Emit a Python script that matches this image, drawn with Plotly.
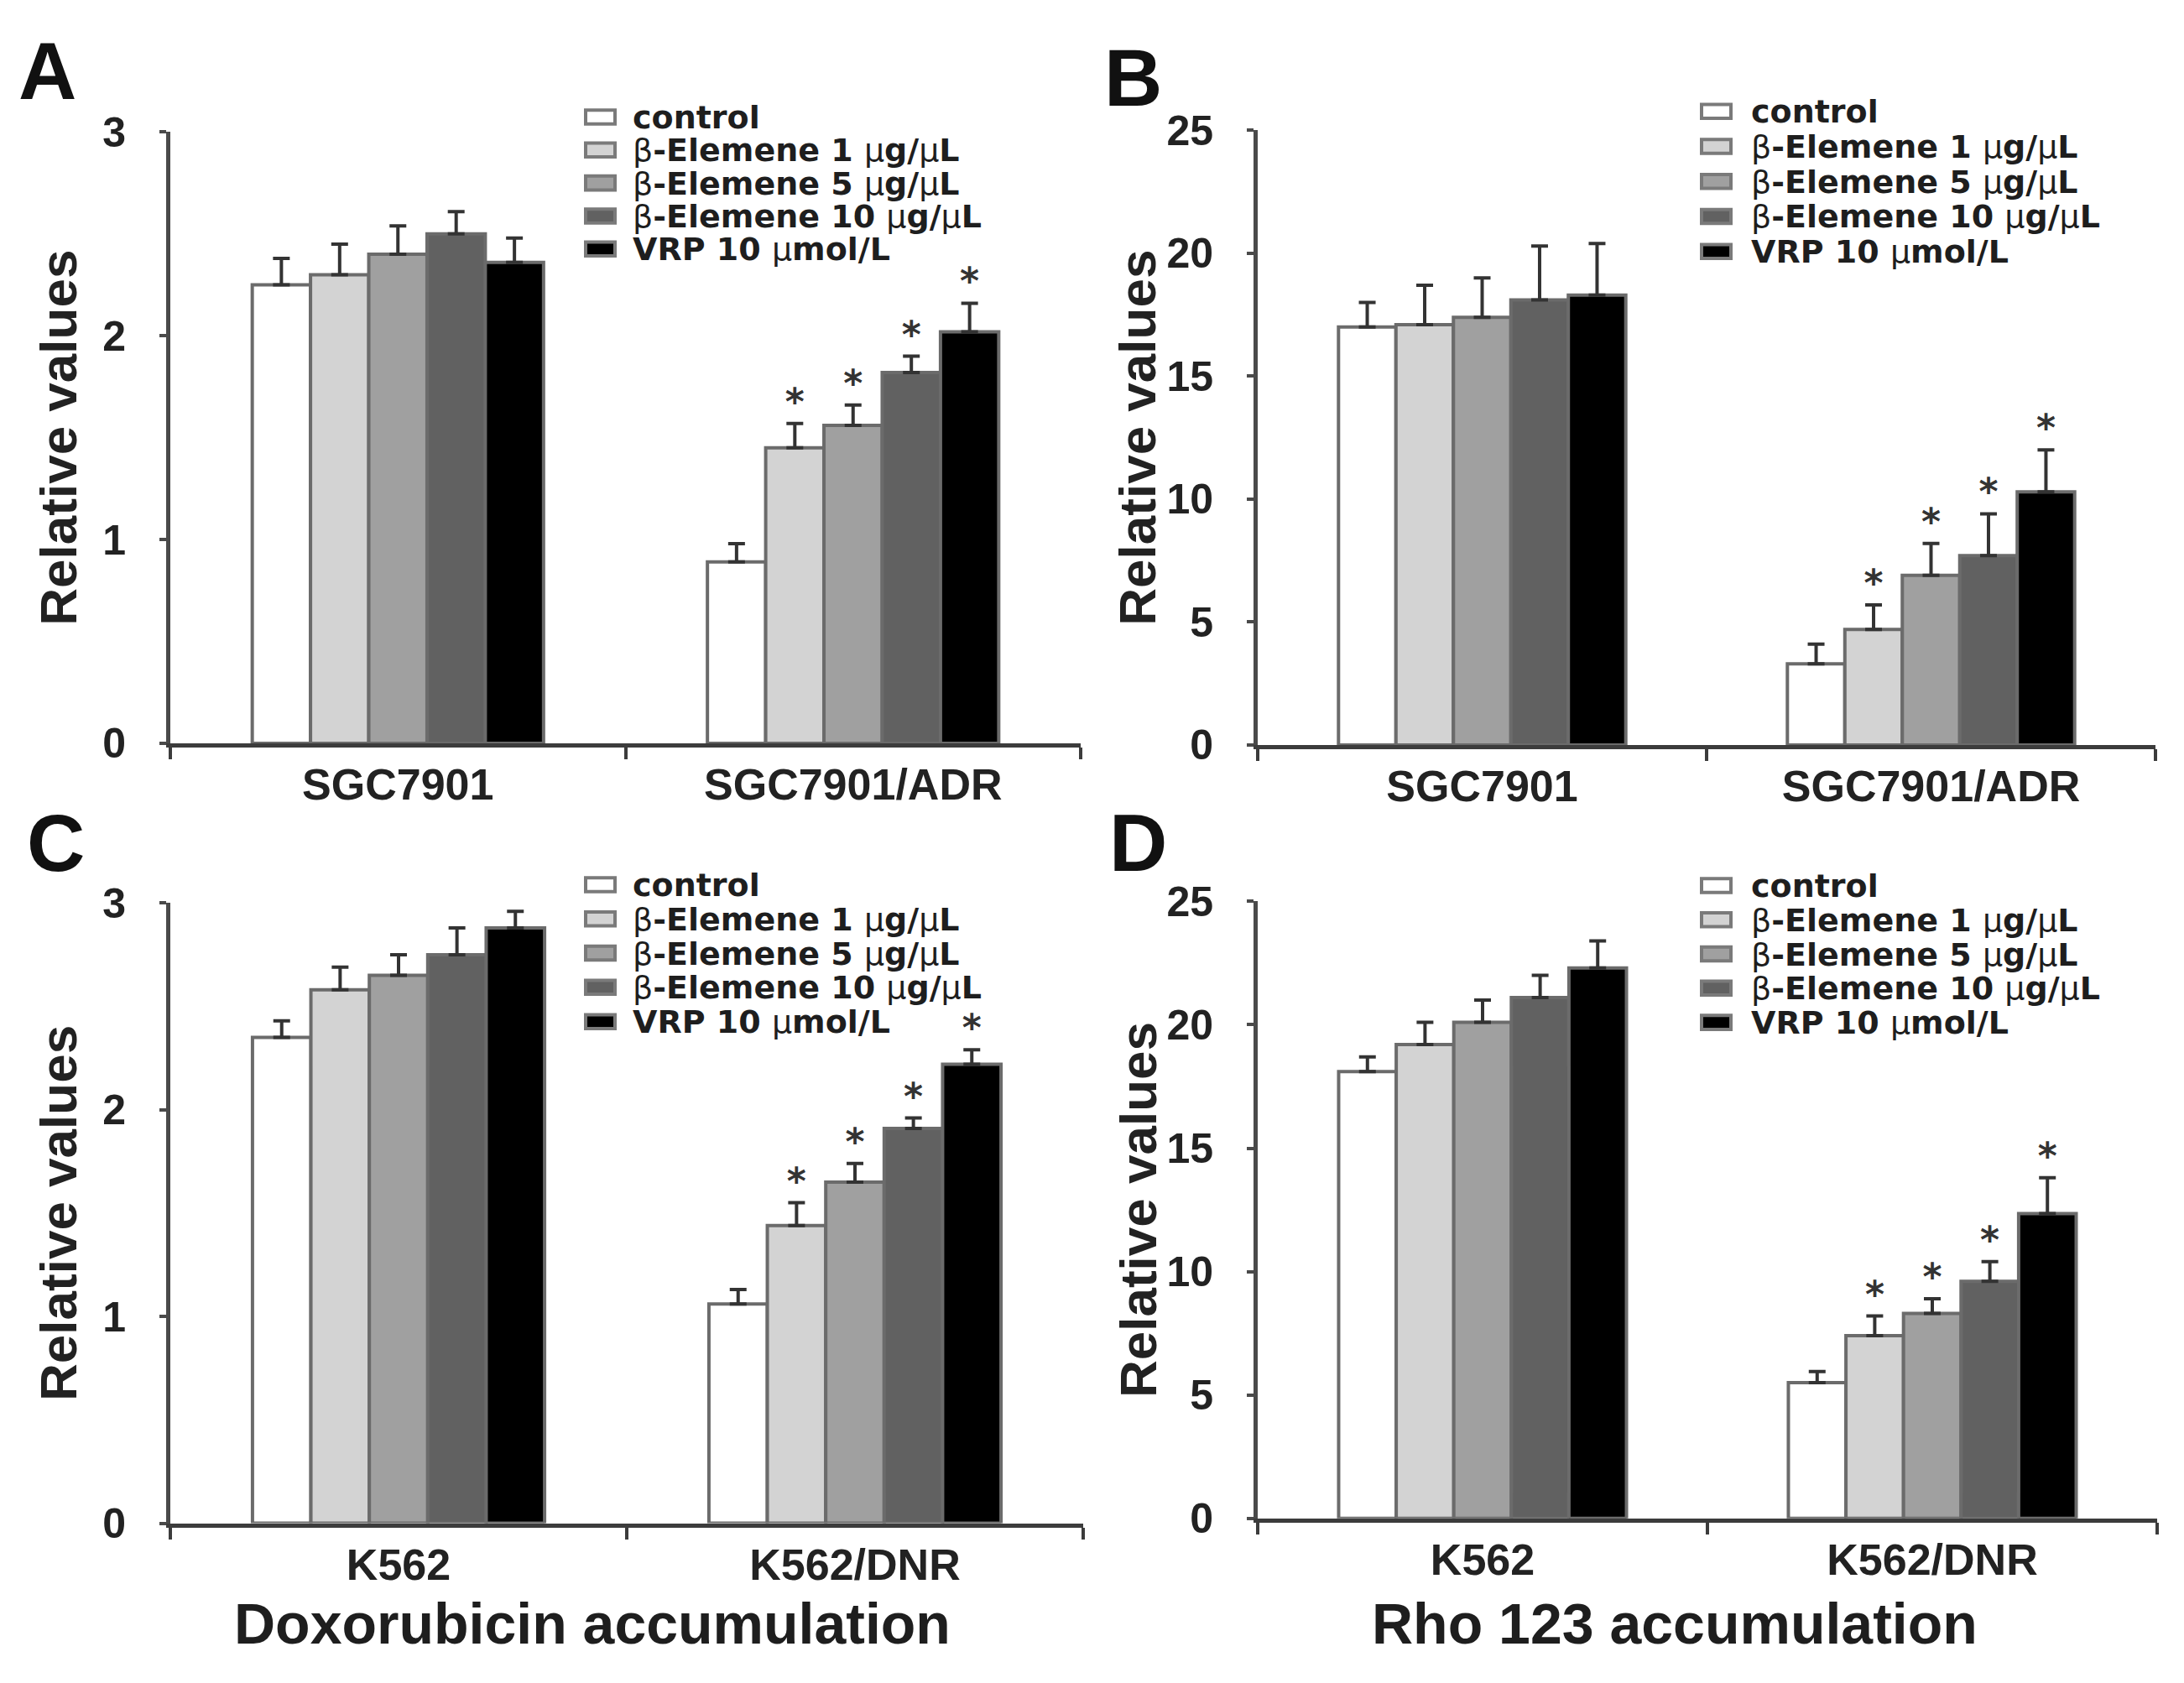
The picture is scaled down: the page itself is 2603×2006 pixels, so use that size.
import plotly.graph_objects as go

# figure size: the page body keeps its default 8px margin
W, H = 2587, 1990


def fx(px):
    return (px - 8) / W


def fy(py):
    return 1 - (py - 8) / H


series_names = ["control", "β-Elemene 1 μg/μL", "β-Elemene 5 μg/μL",
                "β-Elemene 10 μg/μL", "VRP 10 μmol/L"]
bar_colors = ["#ffffff", "#d3d3d3", "#a0a0a0", "#616161", "#000000"]

groups_ab = ["SGC7901", "SGC7901/ADR"]
groups_cd = ["K562", "K562/DNR"]

# A: doxorubicin, SGC7901
a_means = [[2.25, 0.89], [2.30, 1.45], [2.40, 1.56], [2.50, 1.82], [2.36, 2.02]]
a_errs = [[0.13, 0.09], [0.15, 0.12], [0.14, 0.10], [0.11, 0.08], [0.12, 0.14]]
a_stars = [[0, 0], [0, 1], [0, 1], [0, 1], [0, 1]]

# B: rho 123, SGC7901
b_means = [[17.0, 3.3], [17.1, 4.7], [17.4, 6.9], [18.1, 7.7], [18.3, 10.3]]
b_errs = [[1.0, 0.8], [1.6, 1.0], [1.6, 1.3], [2.2, 1.7], [2.1, 1.7]]
b_stars = [[0, 0], [0, 1], [0, 1], [0, 1], [0, 1]]

# C: doxorubicin, K562
c_means = [[2.35, 1.06], [2.58, 1.44], [2.65, 1.65], [2.75, 1.91], [2.88, 2.22]]
c_errs = [[0.08, 0.07], [0.11, 0.11], [0.10, 0.09], [0.13, 0.05], [0.08, 0.07]]
c_stars = [[0, 0], [0, 1], [0, 1], [0, 1], [0, 1]]

# D: rho 123, K562
d_means = [[18.1, 5.5], [19.2, 7.4], [20.1, 8.3], [21.1, 9.6], [22.3, 12.35]]
d_errs = [[0.6, 0.45], [0.9, 0.8], [0.9, 0.6], [0.9, 0.8], [1.1, 1.45]]
d_stars = [[0, 0], [0, 1], [0, 1], [0, 1], [0, 1]]

panels = [
    dict(letter="A", cats=groups_ab, means=a_means, errs=a_errs, stars=a_stars, ymax=3, dtick=1,
         xd=(203, 1288), yd=(133, 883), ytitle_x=70, letter_xy=(56, 58),
         leg=(698, 752, 115, 40.5)),
    dict(letter="B", cats=groups_ab, means=b_means, errs=b_errs, stars=b_stars, ymax=25, dtick=5,
         xd=(1499, 2569), yd=(131, 885), ytitle_x=1356, letter_xy=(1350, 66),
         leg=(2028, 2085, 108, 43)),
    dict(letter="C", cats=groups_cd, means=c_means, errs=c_errs, stars=c_stars, ymax=3, dtick=1,
         xd=(203, 1291), yd=(1079, 1840), ytitle_x=70, letter_xy=(66, 1005),
         leg=(698, 752, 1057, 42)),
    dict(letter="D", cats=groups_cd, means=d_means, errs=d_errs, stars=d_stars, ymax=25, dtick=5,
         xd=(1499, 2571), yd=(1077, 1834), ytitle_x=1356, letter_xy=(1356, 1005),
         leg=(2028, 2085, 1058, 42)),
]

bold = "Liberation Sans"
fig = go.Figure()
annotations = []
shapes = []

for k, p in enumerate(panels):
    sfx = "" if k == 0 else str(k + 1)
    xa, ya = "x" + sfx, "y" + sfx
    for i, name in enumerate(series_names):
        fig.add_trace(go.Bar(
            x=p["cats"], y=p["means"][i], name=name, showlegend=False,
            xaxis=xa, yaxis=ya, offsetgroup=str(i),
            marker=dict(color=bar_colors[i], line=dict(color="#6b6b6b", width=4)),
            error_y=dict(type="data", symmetric=False, array=p["errs"][i],
                         arrayminus=[0] * len(p["cats"]),
                         color="#333333", thickness=4, width=10),
        ))
    for i, name in enumerate(series_names):
        tops = [m + e if s else None for m, e, s in zip(p["means"][i], p["errs"][i], p["stars"][i])]
        fig.add_trace(go.Scatter(
            x=p["cats"], y=tops, mode="text", showlegend=False,
            text=["*" if s else "" for s in p["stars"][i]],
            textposition="top center", cliponaxis=False,
            textfont=dict(family="DejaVu Sans", size=44, color="#333333", weight="bold"),
            xaxis=xa, yaxis=ya, offsetgroup=str(i), hoverinfo="skip",
        ))

    fig.update_layout(**{
        "xaxis" + sfx: dict(
            domain=[fx(p["xd"][0]), fx(p["xd"][1])], anchor=ya, type="category",
            range=[-0.5, 1.5], showline=True, linecolor="#3c3c3c", linewidth=5,
            ticks="outside", tickson="boundaries", ticklen=14, tickwidth=4, tickcolor="#3c3c3c",
            tickfont=dict(family=bold, size=52, color="#222222", weight="bold"),
            showgrid=False, zeroline=False,
        ),
        "yaxis" + sfx: dict(
            domain=[fy(p["yd"][1]), fy(p["yd"][0])], anchor=xa,
            range=[0, p["ymax"]], tick0=0, dtick=p["dtick"],
            showline=True, linecolor="#4a4a4a", linewidth=5,
            ticks="outside", ticklen=8, tickwidth=4, tickcolor="#4a4a4a",
            ticklabelstandoff=30,
            tickfont=dict(family=bold, size=50, color="#222222", weight="bold"),
            showgrid=False, zeroline=False,
        ),
    })

    # panel letter and y title
    annotations.append(dict(text=p["letter"], x=fx(p["letter_xy"][0]), y=fy(p["letter_xy"][1]),
                            xref="paper", yref="paper", xanchor="center", yanchor="middle",
                            showarrow=False, font=dict(family=bold, size=96, color="#111111", weight="bold")))
    annotations.append(dict(text="Relative values", textangle=-90,
                            x=fx(p["ytitle_x"]), y=fy((p["yd"][0] + p["yd"][1]) / 2),
                            xref="paper", yref="paper", xanchor="center", yanchor="middle",
                            showarrow=False, font=dict(family=bold, size=62, color="#222222", weight="bold")))

    # legend block
    sx, tx, y0, step = p["leg"]
    for i, name in enumerate(series_names):
        yc = y0 + step * i
        shapes.append(dict(type="rect", xref="paper", yref="paper",
                           x0=fx(sx), x1=fx(sx + 35), y0=fy(yc + 8), y1=fy(yc - 9),
                           fillcolor=bar_colors[i], line=dict(color="#7a7a7a", width=4)))
        label = name.replace("β", '<span style="font-weight:normal">β</span>').replace(
            "μ", '<span style="font-weight:normal">μ</span>')
        annotations.append(dict(text=label, x=fx(tx), y=fy(yc), xref="paper", yref="paper",
                                xanchor="left", yanchor="middle", showarrow=False,
                                font=dict(family="DejaVu Sans", size=38, color="#1e1e1e", weight="bold")))

# bottom titles
annotations.append(dict(text="Doxorubicin accumulation", x=fx(706), y=fy(2004),
                        xref="paper", yref="paper", xanchor="center", yanchor="bottom", showarrow=False,
                        font=dict(family=bold, size=68, color="#1e1e1e", weight="bold")))
annotations.append(dict(text="Rho 123 accumulation", x=fx(1996), y=fy(2004),
                        xref="paper", yref="paper", xanchor="center", yanchor="bottom", showarrow=False,
                        font=dict(family=bold, size=68, color="#1e1e1e", weight="bold")))

fig.update_layout(
    width=W, height=H, margin=dict(l=0, r=0, t=0, b=0),
    paper_bgcolor="white", plot_bgcolor="white",
    barmode="group", bargap=0.36, bargroupgap=0,
    scattermode="group", scattergap=0.36,
    showlegend=False, annotations=annotations, shapes=shapes,
)

fig.write_html("out.html")
